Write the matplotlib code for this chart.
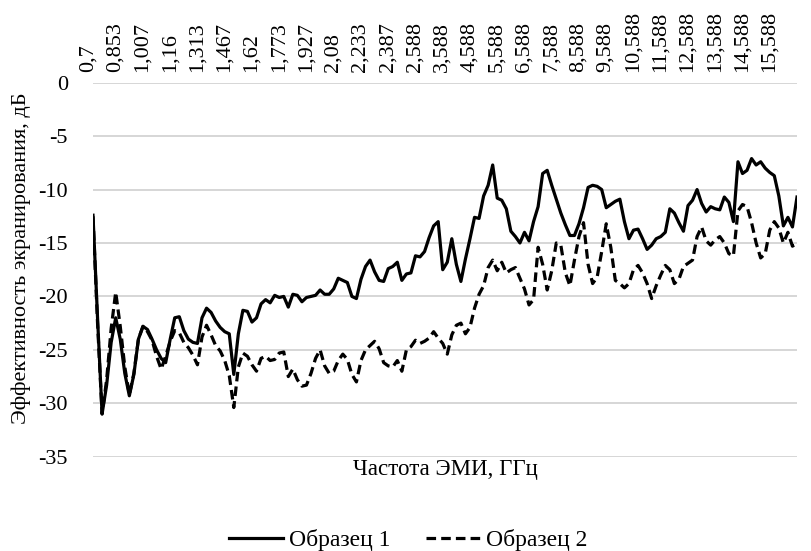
import numpy as np
import matplotlib
matplotlib.use('Agg')
import matplotlib.pyplot as plt
from matplotlib.transforms import ScaledTranslation

plt.rcParams['font.family'] = ['Liberation Serif', 'DejaVu Serif']
plt.rcParams['axes.unicode_minus'] = False

# tick labels on the top axis (GHz), one every 6 samples
freq_labels = ['0,7', '0,853', '1,007', '1,16', '1,313', '1,467', '1,62', '1,773',
               '1,927', '2,08', '2,233', '2,387', '2,588', '3,588', '4,588', '5,588',
               '6,588', '7,588', '8,588', '9,588', '10,588', '11,588', '12,588',
               '13,588', '14,588', '15,588']
step = 6

# образец 1 (dB)
sample1 = [-12.4, -22.0, -31.0, -28.3, -24.3, -22.0, -24.0, -27.2, -29.3, -27.3,
           -24.0, -22.8, -23.1, -24.0, -25.0, -25.8, -26.2, -24.0, -22.0, -21.9,
           -23.2, -24.0, -24.3, -24.4, -22.0, -21.1, -21.5, -22.3, -22.9, -23.3,
           -23.5, -27.3, -23.5, -21.3, -21.4, -22.4, -22.0, -20.7, -20.3, -20.6,
           -19.9, -20.1, -20.0, -21.0, -19.8, -19.9, -20.5, -20.1, -20.0, -19.9,
           -19.4, -19.8, -19.8, -19.3, -18.3, -18.5, -18.7, -20.0, -20.2, -18.4,
           -17.2, -16.6, -17.7, -18.5, -18.6, -17.4, -17.2, -16.8, -18.5, -17.9,
           -17.8, -16.2, -16.3, -15.8, -14.5, -13.4, -13.0, -17.5, -16.8, -14.6,
           -17.0, -18.6, -16.5, -14.6, -12.6, -12.7, -10.6, -9.6, -7.7, -10.8,
           -11.0, -11.8, -13.9, -14.4, -15.0, -14.0, -14.8, -13.0, -11.6, -8.5,
           -8.2, -9.6, -10.9, -12.2, -13.3, -14.3, -14.3, -13.2, -11.7, -9.8,
           -9.6, -9.7, -10.0, -11.7, -11.4, -11.1, -10.9, -13.0, -14.6, -13.8,
           -13.7, -14.6, -15.6, -15.2, -14.6, -14.4, -14.0, -11.8, -12.2, -13.1,
           -13.9, -11.5, -11.0, -10.0, -11.3, -12.1, -11.6, -11.8, -11.9, -10.7,
           -11.2, -13.0, -7.4, -8.5, -8.2, -7.1, -7.7, -7.4, -8.0, -8.4,
           -8.7, -10.6, -13.4, -12.6, -13.5, -10.7]

# образец 2 (dB)
sample2 = [-12.5, -22.5, -31.0, -27.8, -23.0, -19.6, -22.8, -26.6, -29.2, -27.2,
           -24.0, -22.8, -23.3, -24.1, -25.6, -26.8, -25.6, -24.2, -23.2, -23.4,
           -24.3, -24.8, -25.5, -26.4, -23.8, -22.7, -23.6, -24.6, -25.1, -26.0,
           -27.4, -30.4, -26.6, -25.3, -25.6, -26.4, -27.0, -25.8, -25.6, -26.0,
           -25.9, -25.3, -25.2, -27.5, -26.8, -27.8, -28.4, -28.3, -27.2, -25.8,
           -25.0, -26.5, -27.2, -27.0, -26.0, -25.4, -25.9, -27.3, -28.0, -26.0,
           -25.0, -24.6, -24.2, -24.9, -26.2, -26.5, -26.6, -26.0, -27.0, -25.0,
           -24.7, -24.1, -24.4, -24.2, -23.9, -23.3, -23.9, -24.4, -25.4, -23.6,
           -22.7, -22.5, -23.5, -22.9, -21.1, -19.8, -19.0, -17.3, -16.6, -17.6,
           -16.8, -17.8, -17.5, -17.3, -18.3, -19.3, -20.8, -20.3, -15.4, -17.0,
           -19.4, -17.6, -15.0, -15.2, -17.8, -19.0, -16.6, -14.4, -13.1, -17.0,
           -18.8, -18.2, -15.8, -13.2, -15.4, -18.5, -18.8, -19.2, -18.8, -17.5,
           -17.1, -17.8, -18.8, -20.2, -19.0, -18.0, -17.1, -17.5, -18.8, -18.4,
           -17.2, -16.9, -16.6, -14.4, -13.5, -14.8, -15.2, -14.7, -14.4, -15.0,
           -16.0, -16.2, -12.0, -11.4, -11.6, -13.1, -15.0, -16.4, -16.0, -13.8,
           -13.0, -13.6, -15.0, -14.0, -15.3, -15.0]

x = np.arange(len(sample1))

fig = plt.figure(figsize=(8.11, 5.51), dpi=100)
ax = fig.add_axes([93/811, 1 - 456.7/551, 704/811, (456.7 - 82.7)/551])

ax.plot(x, sample1, color='black', lw=2.3, label='Образец 1')
ax.plot(x, sample2, color='black', lw=2.3, dashes=(3, 1.6), label='Образец 2')

ax.set_xlim(0, len(x) - 1)
ax.set_ylim(-35, 0)
ax.set_yticks(np.arange(-35, 1, 5))
ax.grid(axis='y', color='#d0d0d0', lw=1.2)
ax.set_axisbelow(True)
for s in ax.spines.values():
    s.set_visible(False)

ax.xaxis.tick_top()
ax.set_xticks(x[::step][:len(freq_labels)])
ax.set_xticklabels(freq_labels, rotation=90, fontsize=16)
ax.tick_params(axis='x', length=0, pad=8)
ax.tick_params(axis='y', length=0, pad=18, labelsize=16)
shift = ScaledTranslation(-5/100, 0, fig.dpi_scale_trans)
for lab in ax.get_xticklabels():
    lab.set_transform(lab.get_transform() + shift)

ax.set_ylabel('Эффективность экранирования, дБ', fontsize=16)
ax.yaxis.set_label_coords(-0.088, 0.53)
fig.text(445/811, 1 - 470/551, 'Частота ЭМИ, ГГц', ha='center', va='center', fontsize=16.5)

fig.legend(loc='center', bbox_to_anchor=(408/811, 1 - 540/551), ncol=2, frameon=False,
           fontsize=17, handlelength=2.3, columnspacing=1.5, handletextpad=0.25)

fig.savefig('out.png', dpi=100)
